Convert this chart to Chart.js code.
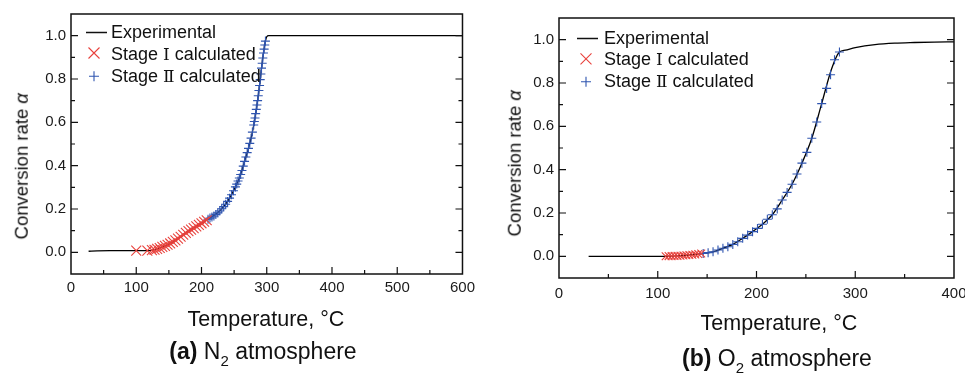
<!DOCTYPE html>
<html>
<head>
<meta charset="utf-8">
<script src="https://cdn.jsdelivr.net/npm/chart.js"></script>
<style>
  body { margin: 0; background: #fff; width: 965px; height: 375px; overflow: hidden; position: relative;
         font-family: "Liberation Sans", Arial, "Noto Sans CJK SC", sans-serif; color: #111; }
  canvas { position: absolute; top: 0; }
  .txt { position: absolute; width: 400px; text-align: center; white-space: nowrap; }
  .xt { font-size: 21.5px; line-height: 21.5px; }
  .cap { font-size: 23px; line-height: 23px; }
  .cap sub { font-size: 15px; vertical-align: -7px; line-height: 0; }
  .yt { font-size: 18.5px; line-height: 18.5px; width: 200px; transform: rotate(-90deg); }
</style>
</head>
<body>
<canvas id="chartN2" width="480" height="375" style="left:0"></canvas>
<canvas id="chartO2" width="500" height="375" style="left:480px"></canvas>

<div class="txt yt" style="left:-78px;top:157px">Conversion rate <i>α</i></div>
<div class="txt yt" style="left:415px;top:154px">Conversion rate <i>α</i></div>
<div class="txt xt" style="left:66px;top:309px">Temperature, °C</div>
<div class="txt xt" style="left:579px;top:313px">Temperature, °C</div>
<div class="txt cap" style="left:63px;top:340px"><b>(a)</b> N<sub>2</sub> atmosphere</div>
<div class="txt cap" style="left:577px;top:347px"><b>(b)</b> O<sub>2</sub> atmosphere</div>

<script>
// N2 atmosphere (a)
const n2ExpT = [27, 40, 60, 80, 100, 120, 128, 140, 150, 160, 170, 180, 190, 200, 211, 220, 230, 240, 250, 259, 265, 272, 277, 282, 286, 289, 292, 295, 298, 300, 303, 310, 350, 400, 500, 600];
const n2ExpA = [0.005, 0.007, 0.008, 0.008, 0.008, 0.008, 0.012, 0.025, 0.038, 0.055, 0.077, 0.098, 0.116, 0.134, 0.155, 0.172, 0.197, 0.235, 0.29, 0.35, 0.41, 0.48, 0.54, 0.62, 0.70, 0.77, 0.85, 0.92, 0.975, 0.995, 1.0, 1.0, 1.0, 1.0, 1.0, 1.0];
const n2S1T = [100, 117, 124, 128, 132, 136, 140, 144, 148, 152, 156, 160, 164, 168, 172, 176, 180, 184, 188, 192, 196, 200, 204, 208];
const n2S1A = [0.008, 0.008, 0.010, 0.012, 0.016, 0.020, 0.025, 0.030, 0.035, 0.041, 0.048, 0.055, 0.063, 0.072, 0.081, 0.090, 0.098, 0.105, 0.112, 0.120, 0.127, 0.134, 0.141, 0.148];
const n2S2T = [210, 213, 216, 219, 222, 225, 228, 231, 234, 237, 240, 243, 246, 249, 252, 254, 256, 258, 260, 262, 264, 266, 268, 270, 272, 274, 276, 278, 280, 281, 282, 283, 284, 285, 286, 287, 288, 289, 290, 291, 292, 293, 294, 295, 296, 297, 298];
const n2S2A = [0.153, 0.158, 0.163, 0.168, 0.175, 0.182, 0.191, 0.201, 0.211, 0.222, 0.235, 0.250, 0.266, 0.284, 0.302, 0.315, 0.329, 0.343, 0.359, 0.378, 0.398, 0.42, 0.44, 0.46, 0.48, 0.503, 0.527, 0.555, 0.588, 0.604, 0.62, 0.64, 0.66, 0.68, 0.70, 0.723, 0.747, 0.77, 0.797, 0.823, 0.85, 0.873, 0.897, 0.92, 0.938, 0.957, 0.975];

// O2 atmosphere (b)
const o2ExpT = [30, 60, 100, 120, 140, 146, 156, 166, 176, 186, 196, 206, 216, 226, 236, 246, 256, 266, 276, 284, 290, 300, 320, 340, 360, 380, 400];
const o2ExpA = [0, 0, 0, 0.002, 0.010, 0.013, 0.021, 0.037, 0.055, 0.083, 0.114, 0.148, 0.192, 0.26, 0.333, 0.43, 0.545, 0.705, 0.865, 0.943, 0.952, 0.963, 0.977, 0.984, 0.987, 0.989, 0.99];
const o2S1T = [108, 111, 114, 117, 120, 123, 126, 129, 132, 135, 138, 141, 144];
const o2S1A = [0.000, 0.001, 0.001, 0.002, 0.002, 0.003, 0.004, 0.005, 0.006, 0.007, 0.009, 0.011, 0.013];
const o2S2T = [146, 151, 156, 161, 166, 171, 176, 181, 186, 191, 196, 201, 206, 211, 216, 221, 226, 231, 236, 241, 246, 251, 256, 261, 266, 271, 275, 279, 284];
const o2S2A = [0.013, 0.017, 0.021, 0.029, 0.037, 0.044, 0.055, 0.067, 0.083, 0.098, 0.114, 0.129, 0.148, 0.171, 0.192, 0.219, 0.26, 0.295, 0.333, 0.38, 0.43, 0.48, 0.545, 0.62, 0.705, 0.775, 0.838, 0.907, 0.943];

const n2XTicks = [0, 100, 200, 300, 400, 500, 600];
const o2XTicks = [0, 100, 200, 300, 400];
const yTicks = [0, 0.2, 0.4, 0.6, 0.8, 1.0];
const legendLabels = ['Experimental', 'Stage Ⅰ calculated', 'Stage Ⅱ calculated'];

const FONT = '"Liberation Sans", Arial, "Noto Sans CJK SC", sans-serif';
const SERIF = '"DejaVu Serif", "Liberation Serif", serif';
const RED = '#e8413c';
const BLUE = '#2f55b0';

const pts = (xs, ys) => xs.map((x, i) => ({ x: x, y: ys[i] }));

// roman numerals come out of a serif font in the original, the rest is sans
function drawMixed(ctx, text, x, y) {
  let cx = x;
  for (const ch of text) {
    const roman = ch === 'Ⅰ' || ch === 'Ⅱ';
    ctx.font = roman ? '17px ' + SERIF : '18px ' + FONT;
    ctx.fillText(ch, cx, y);
    cx += ctx.measureText(ch).width;
  }
}

// frame + inward ticks, like the origin-style plots
const frameTicks = {
  id: 'frameTicks',
  afterDatasetsDraw(chart) {
    const { ctx, chartArea: a } = chart;
    const xs = chart.scales.x, ys = chart.scales.y;
    ctx.save();
    ctx.strokeStyle = '#111';
    ctx.lineWidth = 1.5;
    ctx.strokeRect(a.left, a.top, a.right - a.left, a.bottom - a.top);
    ctx.lineWidth = 1.2;
    ctx.beginPath();
    for (let v = xs.min + 50; v < xs.max; v += 50) {
      const px = xs.getPixelForValue(v);
      const len = v % 100 === 0 ? 7 : 4;
      ctx.moveTo(px, a.bottom);
      ctx.lineTo(px, a.bottom - len);
    }
    for (let k = 0; k <= 10; k++) {
      const v = k / 10;
      const py = ys.getPixelForValue(v);
      const len = k % 2 === 0 ? 7 : 4;
      ctx.moveTo(a.left, py);
      ctx.lineTo(a.left + len, py);
      ctx.moveTo(a.right, py);
      ctx.lineTo(a.right - len, py);
    }
    ctx.stroke();
    ctx.restore();
  },
  afterDraw(chart, args, opts) {
    const ctx = chart.ctx;
    ctx.save();
    ctx.fillStyle = '#111';
    ctx.textBaseline = 'alphabetic';
    // experimental line
    ctx.strokeStyle = '#111';
    ctx.lineWidth = 1.5;
    ctx.beginPath();
    ctx.moveTo(opts.lx, opts.rows[0] - 5);
    ctx.lineTo(opts.lx + 21, opts.rows[0] - 5);
    ctx.stroke();
    // stage I cross
    let cy = opts.rows[1] - 6.5;
    ctx.strokeStyle = RED;
    ctx.lineWidth = 1.1;
    ctx.beginPath();
    ctx.moveTo(opts.mx - 5.5, cy - 5.5); ctx.lineTo(opts.mx + 5.5, cy + 5.5);
    ctx.moveTo(opts.mx - 5.5, cy + 5.5); ctx.lineTo(opts.mx + 5.5, cy - 5.5);
    ctx.stroke();
    // stage II plus
    cy = opts.rows[2] - 5.5;
    ctx.strokeStyle = BLUE;
    ctx.beginPath();
    ctx.moveTo(opts.mx - 5, cy); ctx.lineTo(opts.mx + 5, cy);
    ctx.moveTo(opts.mx, cy - 5); ctx.lineTo(opts.mx, cy + 5);
    ctx.stroke();
    legendLabels.forEach((t, i) => drawMixed(ctx, t, opts.tx, opts.rows[i]));
    ctx.restore();
  }
};

function makeChart(id, exp, s1, s2, xMax, xTicks, lay) {
  return new Chart(document.getElementById(id), {
    type: 'scatter',
    data: {
      datasets: [
        { label: legendLabels[1], data: s1, pointStyle: 'crossRot', pointRadius: lay.r1,
          borderColor: RED, backgroundColor: RED, pointBorderWidth: 1.1, order: 1 },
        { label: legendLabels[2], data: s2, pointStyle: 'cross', pointRadius: lay.r2,
          borderColor: BLUE, backgroundColor: BLUE, pointBorderWidth: 1.1, order: 2 },
        { type: 'line', label: legendLabels[0], data: exp, borderColor: '#000', borderWidth: 1.3,
          pointRadius: 0, cubicInterpolationMode: 'monotone', fill: false, order: 3 }
      ]
    },
    options: {
      responsive: false,
      animation: false,
      events: [],
      layout: { padding: { top: lay.top, right: lay.right, left: 0, bottom: 0 } },
      plugins: { legend: { display: false }, tooltip: { enabled: false },
        frameTicks: lay.legend },
      scales: {
        x: {
          type: 'linear', min: 0, max: xMax,
          grid: { display: false, drawTicks: false },
          border: { display: false },
          afterBuildTicks: s => { s.ticks = xTicks.map(v => ({ value: v })); },
          afterFit: s => { s.height = lay.xh; },
          ticks: { padding: lay.xpad, color: '#1a1a1a', font: { family: FONT, size: 15 }, maxRotation: 0 }
        },
        y: {
          min: -0.1, max: 1.1,
          grid: { display: false, drawTicks: false },
          border: { display: false },
          afterBuildTicks: s => { s.ticks = yTicks.map(v => ({ value: v })); },
          afterFit: s => { s.width = lay.yw; },
          ticks: { padding: 5, color: '#1a1a1a', font: { family: FONT, size: 15 },
                   callback: v => Number(v).toFixed(1) }
        }
      }
    },
    plugins: [frameTicks]
  });
}

makeChart('chartN2', pts(n2ExpT, n2ExpA), pts(n2S1T, n2S1A), pts(n2S2T, n2S2A), 600, n2XTicks,
  { top: 14, right: 14, xh: 101, yw: 71, xpad: 5, r1: 7, r2: 4.5,
    legend: { lx: 86, tx: 111, mx: 94, rows: [37.5, 59.5, 81.7] } });

makeChart('chartO2', pts(o2ExpT, o2ExpA), pts(o2S1T, o2S1A), pts(o2S2T, o2S2A), 400, o2XTicks,
  { top: 18, right: 26, xh: 97, yw: 79, xpad: 7, r1: 5.5, r2: 4.5,
    legend: { lx: 97, tx: 124, mx: 106, rows: [43.5, 65.3, 87.3] } });
</script>
</body>
</html>
